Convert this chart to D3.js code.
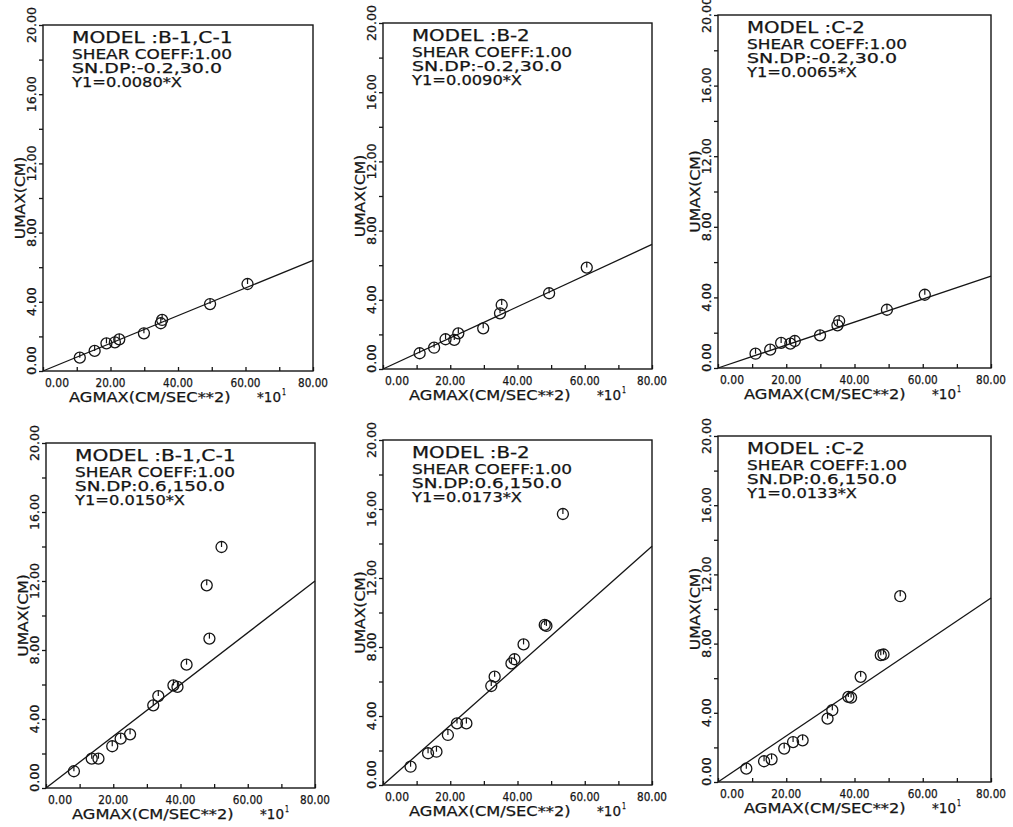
<!DOCTYPE html>
<html>
<head>
<meta charset="utf-8">
<script src="https://cdn.jsdelivr.net/npm/d3@7"></script>
<style>
  body { margin: 0; background: #fff; }
  svg { display: block; }
  text { font-family: "DejaVu Sans", sans-serif; fill: #151515; stroke: #151515; stroke-width: 0.25; }
</style>
</head>
<body>
<script>
// panel captions
const models = ["B-1,C-1", "B-2", "C-2", "B-1,C-1", "B-2", "C-2"];
const shearCoeff = ["1.00", "1.00", "1.00", "1.00", "1.00", "1.00"];
const snDp = ["-0.2,30.0", "-0.2,30.0", "-0.2,30.0", "0.6,150.0", "0.6,150.0", "0.6,150.0"];
const slopes = [0.0080, 0.0090, 0.0065, 0.0150, 0.0173, 0.0133];

// axis ticks (x in units of 10 cm/sec**2)
const xTicks = [0, 10, 20, 30, 40, 50, 60, 70, 80];
const xLabels = [0, 20, 40, 60, 80];
const yTicks = [0, 2, 4, 6, 8, 10, 12, 14, 16, 18, 20];
const yLabels = [0, 4, 8, 12, 16, 20];

// points: AGMAX (x10) and UMAX (cm)
const agmax1 = [10.9, 15.3, 18.8, 21.3, 22.6, 29.9, 34.9, 35.3, 49.5, 60.6];
const umax1  = [0.77, 1.16, 1.60, 1.66, 1.83, 2.18, 2.76, 2.95, 3.87, 5.03];
const agmax2 = [10.9, 15.2, 18.6, 21.2, 22.4, 29.8, 34.8, 35.3, 49.4, 60.6];
const umax2  = [0.91, 1.23, 1.72, 1.68, 2.06, 2.35, 3.22, 3.70, 4.38, 5.86];
const agmax3 = [11.0, 15.3, 18.5, 21.2, 22.5, 29.9, 35.0, 35.5, 49.5, 60.6];
const umax3  = [0.81, 1.04, 1.42, 1.38, 1.53, 1.85, 2.42, 2.66, 3.30, 4.15];
const agmax4 = [8.3, 13.6, 15.6, 19.7, 22.2, 25.0, 31.9, 33.4, 37.9, 39.1, 41.8, 48.6, 47.8, 52.2];
const umax4  = [0.97, 1.70, 1.70, 2.42, 2.86, 3.11, 4.79, 5.33, 5.95, 5.86, 7.15, 8.66, 11.75, 13.97];
const agmax5 = [8.2, 13.4, 15.9, 19.3, 22.0, 24.8, 32.2, 33.2, 38.2, 39.1, 41.8, 48.1, 48.6, 53.5];
const umax5  = [1.06, 1.84, 1.93, 2.90, 3.57, 3.57, 5.74, 6.28, 7.05, 7.29, 8.15, 9.28, 9.22, 15.71];
const agmax6 = [8.3, 13.5, 15.7, 19.4, 22.0, 24.8, 32.1, 33.5, 38.2, 39.0, 41.8, 47.7, 48.5, 53.4];
const umax6  = [0.77, 1.20, 1.31, 1.93, 2.31, 2.41, 3.66, 4.15, 4.92, 4.88, 6.08, 7.33, 7.37, 10.74];

const agmaxAll = [agmax1, agmax2, agmax3, agmax4, agmax5, agmax6];
const umaxAll = [umax1, umax2, umax3, umax4, umax5, umax6];

// plot frames (left, right, top, bottom) as they sit on the scanned sheet
const frames = [
  [43, 313, 25, 371], [383, 652, 23, 369], [718, 991, 15, 368],
  [46, 315, 443, 788], [383, 652, 440, 785], [718, 991, 436, 782]
];

const ink = "#151515";
const fmt = d3.format(".2f");

const svg = d3.select("body").append("svg")
  .attr("width", 1013)
  .attr("height", 827);

// stretch text to a fixed width per character, like the plotter lettering
function label(g, str, x, y, size, charW, anchor) {
  return g.append("text")
    .attr("x", x).attr("y", y)
    .attr("font-size", size)
    .attr("text-anchor", anchor || "start")
    .attr("textLength", str.length * charW)
    .attr("lengthAdjust", "spacingAndGlyphs")
    .text(str);
}

frames.forEach((f, i) => {
  const [l, r, t, b] = f;
  const x = d3.scaleLinear().domain([0, 80]).range([l, r]);
  const y = d3.scaleLinear().domain([0, 20]).range([b, t]);
  const g = svg.append("g");

  // x ticks point inward, y ticks outward
  g.append("g")
    .attr("transform", `translate(0,${b})`)
    .call(d3.axisBottom(x).tickValues(xTicks).tickSizeInner(-4).tickSizeOuter(0).tickFormat(""))
    .call(a => a.select(".domain").remove())
    .call(a => a.selectAll("line").attr("stroke", ink).attr("stroke-width", 1.3));

  g.append("g")
    .attr("transform", `translate(${l},0)`)
    .call(d3.axisLeft(y).tickValues(yTicks).tickSizeInner(4).tickSizeOuter(0).tickFormat(""))
    .call(a => a.select(".domain").remove())
    .call(a => a.selectAll("line").attr("stroke", ink).attr("stroke-width", 1.3));

  g.append("rect")
    .attr("x", l).attr("y", t)
    .attr("width", r - l).attr("height", b - t)
    .attr("fill", "none")
    .attr("stroke", ink)
    .attr("stroke-width", 1.4);

  // x tick labels
  xLabels.forEach(v => {
    if (v === 0) label(g, fmt(v), x(v) + 2, b + 16, 12, 6, "start");
    else label(g, fmt(v), x(v), b + 16, 12, 6, "middle");
  });

  // y tick labels, rotated
  yLabels.forEach(v => {
    const s = fmt(v);
    const cy = v === 0 ? b + 4 : y(v);
    label(g, s, 0, 0, 12, 7.2, v === 0 ? "start" : "middle")
      .attr("transform", `translate(${l - 7},${cy}) rotate(-90)`);
  });

  // axis titles
  label(g, "UMAX(CM)", 0, 0, 14, 10.3, "middle")
    .attr("transform", `translate(${l - 18},${(t + b) / 2}) rotate(-90)`);
  label(g, "AGMAX(CM/SEC**2)", l + 26, b + 31, 14, 10.1, "start");
  label(g, "*10", l + 214, b + 31, 14, 8, "start");
  label(g, "1", l + 239, b + 24, 9, 4, "start");

  // caption block
  const tx = l + 29;
  label(g, "MODEL  :" + models[i], tx, t + 18, 15, 10.7);
  label(g, "SHEAR COEFF:" + shearCoeff[i], tx, t + 34, 13.5, 10);
  label(g, "SN.DP:" + snDp[i], tx, t + 48, 13.5, 10);
  label(g, "Y1=" + slopes[i].toFixed(4) + "*X", tx, t + 62, 13.5, 10);

  // fitted line Y1 = slope * AGMAX (AGMAX in cm/sec**2, axis in x10)
  g.append("path")
    .datum([0, 80])
    .attr("fill", "none")
    .attr("stroke", ink)
    .attr("stroke-width", 1.3)
    .attr("d", d3.line().x(d => x(d)).y(d => y(slopes[i] * d * 10)));

  // measured points
  const pts = agmaxAll[i].map((a, k) => ({ a, u: umaxAll[i][k] }));
  const mk = g.append("g").selectAll("g").data(pts).join("g")
    .attr("transform", d => `translate(${x(d.a)},${y(d.u)})`);
  mk.append("circle")
    .attr("r", 5.5)
    .attr("fill", "none")
    .attr("stroke", ink)
    .attr("stroke-width", 1.3);
  mk.append("line")
    .attr("x1", 0).attr("x2", 0)
    .attr("y1", -5.5).attr("y2", 0)
    .attr("stroke", ink)
    .attr("stroke-width", 1.2);
});
</script>
</body>
</html>
